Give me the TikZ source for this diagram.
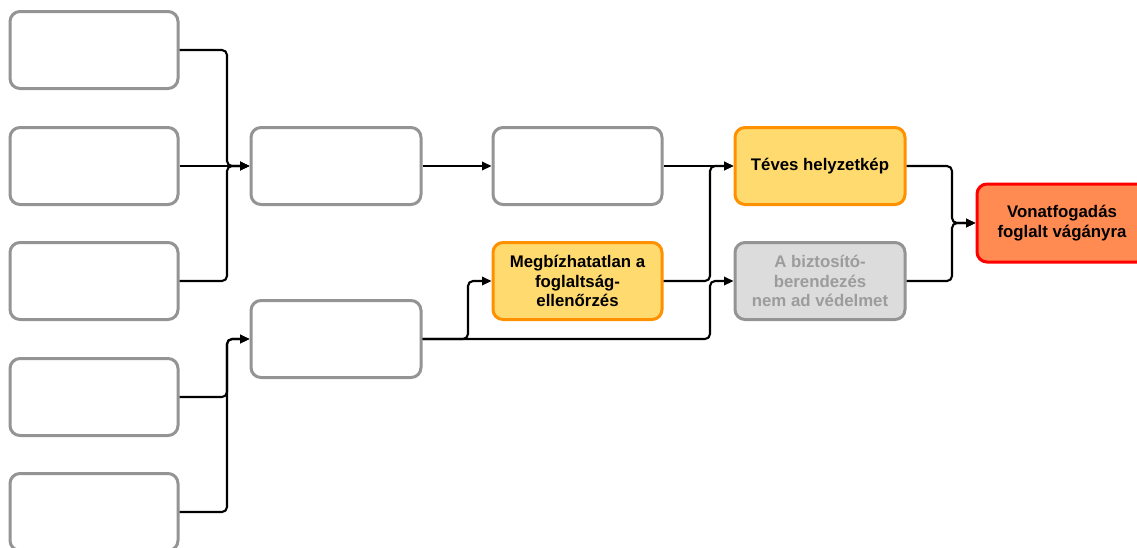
\documentclass[tikz,border=0pt]{standalone}
\usepackage{fontspec}
\setmainfont{Liberation Sans}
\usetikzlibrary{arrows.meta}
\definecolor{boxgray}{HTML}{949494}
\definecolor{warnfill}{HTML}{FFDA6E}
\definecolor{warnline}{HTML}{FF9000}
\definecolor{offfill}{HTML}{DCDCDC}
\definecolor{offtext}{HTML}{9C9C9C}
\definecolor{topfill}{HTML}{FF8A52}
\definecolor{topline}{HTML}{FF0000}
\tikzset{
  cause/.style={rectangle, rounded corners=10pt, line width=3pt, draw=boxgray, fill=white,
    minimum width=168pt, minimum height=77pt, inner sep=2pt, align=center,
    font=\fontsize{16.8}{19.5}\selectfont\bfseries},
  warnbox/.style={cause, draw=warnline, fill=warnfill},
  offbox/.style={cause, draw=boxgray, fill=offfill, text=offtext},
  topbox/.style={cause, draw=topline, fill=topfill},
  link/.style={line width=2.1pt, rounded corners=5pt, -{Triangle[length=9.5pt,width=8.5pt]}}
}
\begin{document}
\begin{tikzpicture}[x=1pt,y=-1pt]
\useasboundingbox (0,0) rectangle (1137,547);

% first level: basic causes
\node[cause] (L1) at (94,50) {};
\node[cause] (L2) at (94,166) {};
\node[cause] (L3) at (94,281) {};
\node[cause] (L4) at (94,397) {};
\node[cause] (L5) at (94,512) {};

% second level
\node[cause, minimum width=170pt] (A) at (336,166) {};
\node[cause, minimum width=170pt] (B) at (336,339) {};

% third level
\node[cause, minimum width=169pt] (C) at (577.5,166) {};
\node[warnbox, minimum width=169pt] (D) at (577.5,281) {Megbízhatatlan a\\foglaltság-\\ellenőrzés};

% fourth level
\node[warnbox, minimum width=170pt] (E) at (820,166) {Téves helyzetkép};
\node[offbox, minimum width=170pt] (F) at (820,281) {A biztosító-\\berendezés\\nem ad védelmet};

% top event
\node[topbox, minimum width=170pt, minimum height=78pt] (G) at (1062,223) {Vonatfogadás\\foglalt vágányra};

% junction columns
\coordinate (jA) at (227,0);
\coordinate (jD) at (468,0);
\coordinate (jE) at (710,0);
\coordinate (jG) at (952,0);

\draw[link] (L1.east) -- (L1.east -| jA) |- (A.west);
\draw[link] (L2.east) -- (A.west);
\draw[link] (L3.east) -- (L3.east -| jA) |- (A.west);
\draw[link] (L4.east) -- (L4.east -| jA) |- (B.west);
\draw[link] (L5.east) -- (L5.east -| jA) |- (B.west);

\draw[link] (A.east) -- (C.west);
\draw[link] (B.east) -- (B.east -| jD) |- (D.west);
\draw[link] (B.east) -- (B.east -| jE) |- (F.west);
\draw[link] (C.east) -- (E.west);
\draw[link] (D.east) -- (D.east -| jE) |- (E.west);

\draw[link] (E.east) -- (E.east -| jG) |- (G.west);
\draw[link] (F.east) -- (F.east -| jG) |- (G.west);
\end{tikzpicture}
\end{document}
